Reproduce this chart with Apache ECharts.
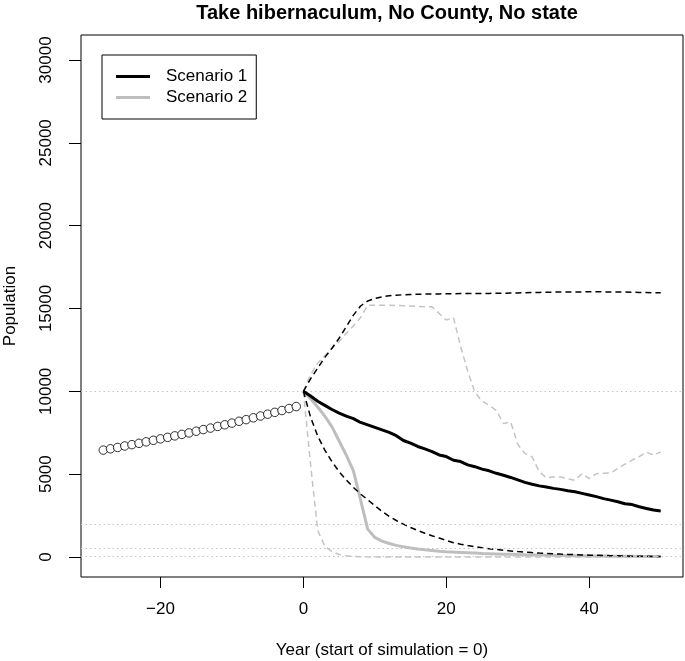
<!DOCTYPE html>
<html>
<head>
<meta charset="utf-8">
<script src="https://cdn.jsdelivr.net/npm/echarts@6/dist/echarts.min.js"></script>
<style>html,body{margin:0;padding:0;background:#fff}#c{width:685px;height:661px}</style>
</head>
<body>
<div id="c"></div>
<script>
var titleText = 'Take hibernaculum, No County, No state';
var xTicks = [-20, 0, 20, 40];
var yTicks = [0, 5000, 10000, 15000, 20000, 25000, 30000];
var refLines = [10000, 2000, 500, 50];

var histYears = [-28,-27,-26,-25,-24,-23,-22,-21,-20,-19,-18,-17,-16,-15,-14,-13,-12,-11,-10,-9,-8,-7,-6,-5,-4,-3,-2,-1];
var histPop = [6450,6530,6610,6700,6780,6860,6950,7040,7130,7220,7310,7400,7490,7590,7690,7780,7880,7980,8080,8190,8290,8400,8510,8620,8730,8840,8960,9080];

var simYears = [0,1,2,3,4,5,6,7,8,9,10,11,12,13,14,15,16,17,18,19,20,21,22,23,24,25,26,27,28,29,30,31,32,33,34,35,36,37,38,39,40,41,42,43,44,45,46,47,48,49,50];
var s1Mean = [10000,9720,9400,9150,8900,8680,8500,8350,8120,7970,7820,7670,7520,7320,7030,6870,6670,6520,6360,6160,6060,5840,5760,5560,5450,5300,5200,5050,4930,4800,4650,4500,4390,4290,4220,4140,4080,4000,3940,3840,3740,3640,3520,3430,3330,3210,3160,3030,2930,2830,2770];
var s1Lower = [10000,8450,7300,6450,5750,5150,4650,4200,3800,3450,3100,2750,2450,2200,1980,1780,1600,1430,1280,1140,1000,860,770,690,620,555,500,450,405,365,325,292,262,236,212,190,172,155,140,125,110,98,86,76,66,58,50,43,37,32,28];
var s1Upper = [10000,10750,11400,12050,12600,13200,13900,14600,15150,15450,15600,15700,15770,15800,15830,15850,15860,15870,15880,15880,15890,15890,15900,15900,15910,15910,15910,15920,15920,15930,15940,15950,15960,15970,15980,15990,15990,16000,16000,16000,16010,16010,16000,16000,15990,15990,15980,15970,15960,15950,15950];
var s2Mean = [10000,9550,9050,8500,7850,7000,6150,5200,3450,1680,1180,960,810,700,610,540,480,430,390,350,320,295,275,255,235,215,200,185,170,158,146,135,125,115,106,98,90,83,76,70,64,58,53,48,44,40,36,33,30,27,25];
var s2Lower = [10000,5600,1600,650,320,150,70,30,12,5,2,0,0,0,0,0,0,0,0,0,0,0,0,0,0,0,0,0,0,0,0,0,0,0,0,0,0,0,0,0,0,0,0,0,0,0,0,0,0,0,0];
var s2Upper = [10000,11000,11700,12150,12600,13000,13500,13950,14450,15200,15200,15200,15190,15180,15170,15150,15130,15110,15100,14700,14300,14450,12700,11200,9950,9400,9150,8850,8050,8150,6800,6250,6050,5150,4780,4830,4830,4720,4630,5030,4730,5030,5050,5070,5350,5600,5850,6050,6330,6150,6340];

function pairs(xs, ys) { return xs.map(function (x, i) { return [x, ys[i]]; }); }

var FONT = 'Liberation Sans, Arial, Helvetica, sans-serif';
var chart = echarts.init(document.getElementById('c'), null, {renderer: 'canvas'});

function lineSeries(name, ys, color, width, type, z) {
  return {
    name: name, type: 'line', data: pairs(simYears, ys),
    showSymbol: false, symbol: 'none', silent: true, z: z,
    lineStyle: {color: color, width: width, type: type},
    itemStyle: {color: color}
  };
}

chart.setOption({
  animation: false,
  backgroundColor: '#fff',
  textStyle: {fontFamily: FONT},
  title: {
    text: titleText, left: 382, top: -2, textAlign: 'center',
    textStyle: {fontFamily: FONT, fontSize: 20, fontWeight: 'bold', color: '#000'}
  },
  legend: {
    data: ['Scenario 1', 'Scenario 2'],
    orient: 'vertical', left: 102, top: 55,
    padding: [13, 9, 13, 14], itemGap: 4,
    itemWidth: 34, itemHeight: 3, icon: 'rect',
    borderColor: '#000', borderWidth: 1, backgroundColor: '#fff',
    textStyle: {fontFamily: FONT, fontSize: 17, color: '#000', padding: [0, 0, 0, 11]},
    selectedMode: false
  },
  grid: {left: 81, right: 2, top: 35, bottom: 84, show: true, borderColor: '#000', borderWidth: 1,
    backgroundColor: 'transparent', containLabel: false, outerBoundsMode: 'none'},
  xAxis: {
    type: 'value', min: -31.12, max: 53.12,
    axisLine: {show: false, onZero: false}, splitLine: {show: false},
    axisTick: {show: true, length: 11, customValues: xTicks, lineStyle: {color: '#000'}},
    axisLabel: {customValues: xTicks, margin: 24, fontSize: 17, color: '#000', fontFamily: FONT,
      formatter: function (v) { return String(v).replace('-', '\u2212'); }},
    name: 'Year (start of simulation = 0)', nameLocation: 'middle', nameGap: 65,
    nameTextStyle: {fontSize: 17, color: '#000', fontFamily: FONT}
  },
  yAxis: {
    type: 'value', min: -1210, max: 31510,
    axisLine: {show: false, onZero: false}, splitLine: {show: false},
    axisTick: {show: true, length: 12, customValues: yTicks, lineStyle: {color: '#000'}},
    axisLabel: {customValues: yTicks, margin: 26, fontSize: 17, color: '#000', rotate: 90, fontFamily: FONT,
      formatter: function (v) { return String(v); }},
    name: 'Population', nameLocation: 'middle', nameGap: 62, nameRotate: 90,
    nameTextStyle: {fontSize: 17, color: '#000', fontFamily: FONT}
  },
  series: [
    {
      name: 'ref', type: 'line', data: [], silent: true,
      markLine: {
        silent: true, symbol: ['none', 'none'], animation: false,
        label: {show: false},
        lineStyle: {color: '#c4c4c4', width: 1, type: [1.5, 3]},
        data: refLines.map(function (v) { return {yAxis: v}; })
      }
    },
    lineSeries('s2Upper', s2Upper, '#c4c4c4', 1.5, [6, 4], 2),
    lineSeries('s2Lower', s2Lower, '#c4c4c4', 1.5, [6, 4], 2),
    lineSeries('Scenario 2', s2Mean, '#bebebe', 3, 'solid', 3),
    lineSeries('s1Upper', s1Upper, '#000', 1.5, [6, 4], 4),
    lineSeries('s1Lower', s1Lower, '#000', 1.5, [6, 4], 4),
    lineSeries('Scenario 1', s1Mean, '#000', 3, 'solid', 5),
    {
      name: 'history', type: 'scatter', data: pairs(histYears, histPop),
      symbol: 'circle', symbolSize: 8.5, silent: true, z: 6,
      itemStyle: {color: '#fff', borderColor: '#000', borderWidth: 1}
    }
  ]
});
</script>
</body>
</html>
